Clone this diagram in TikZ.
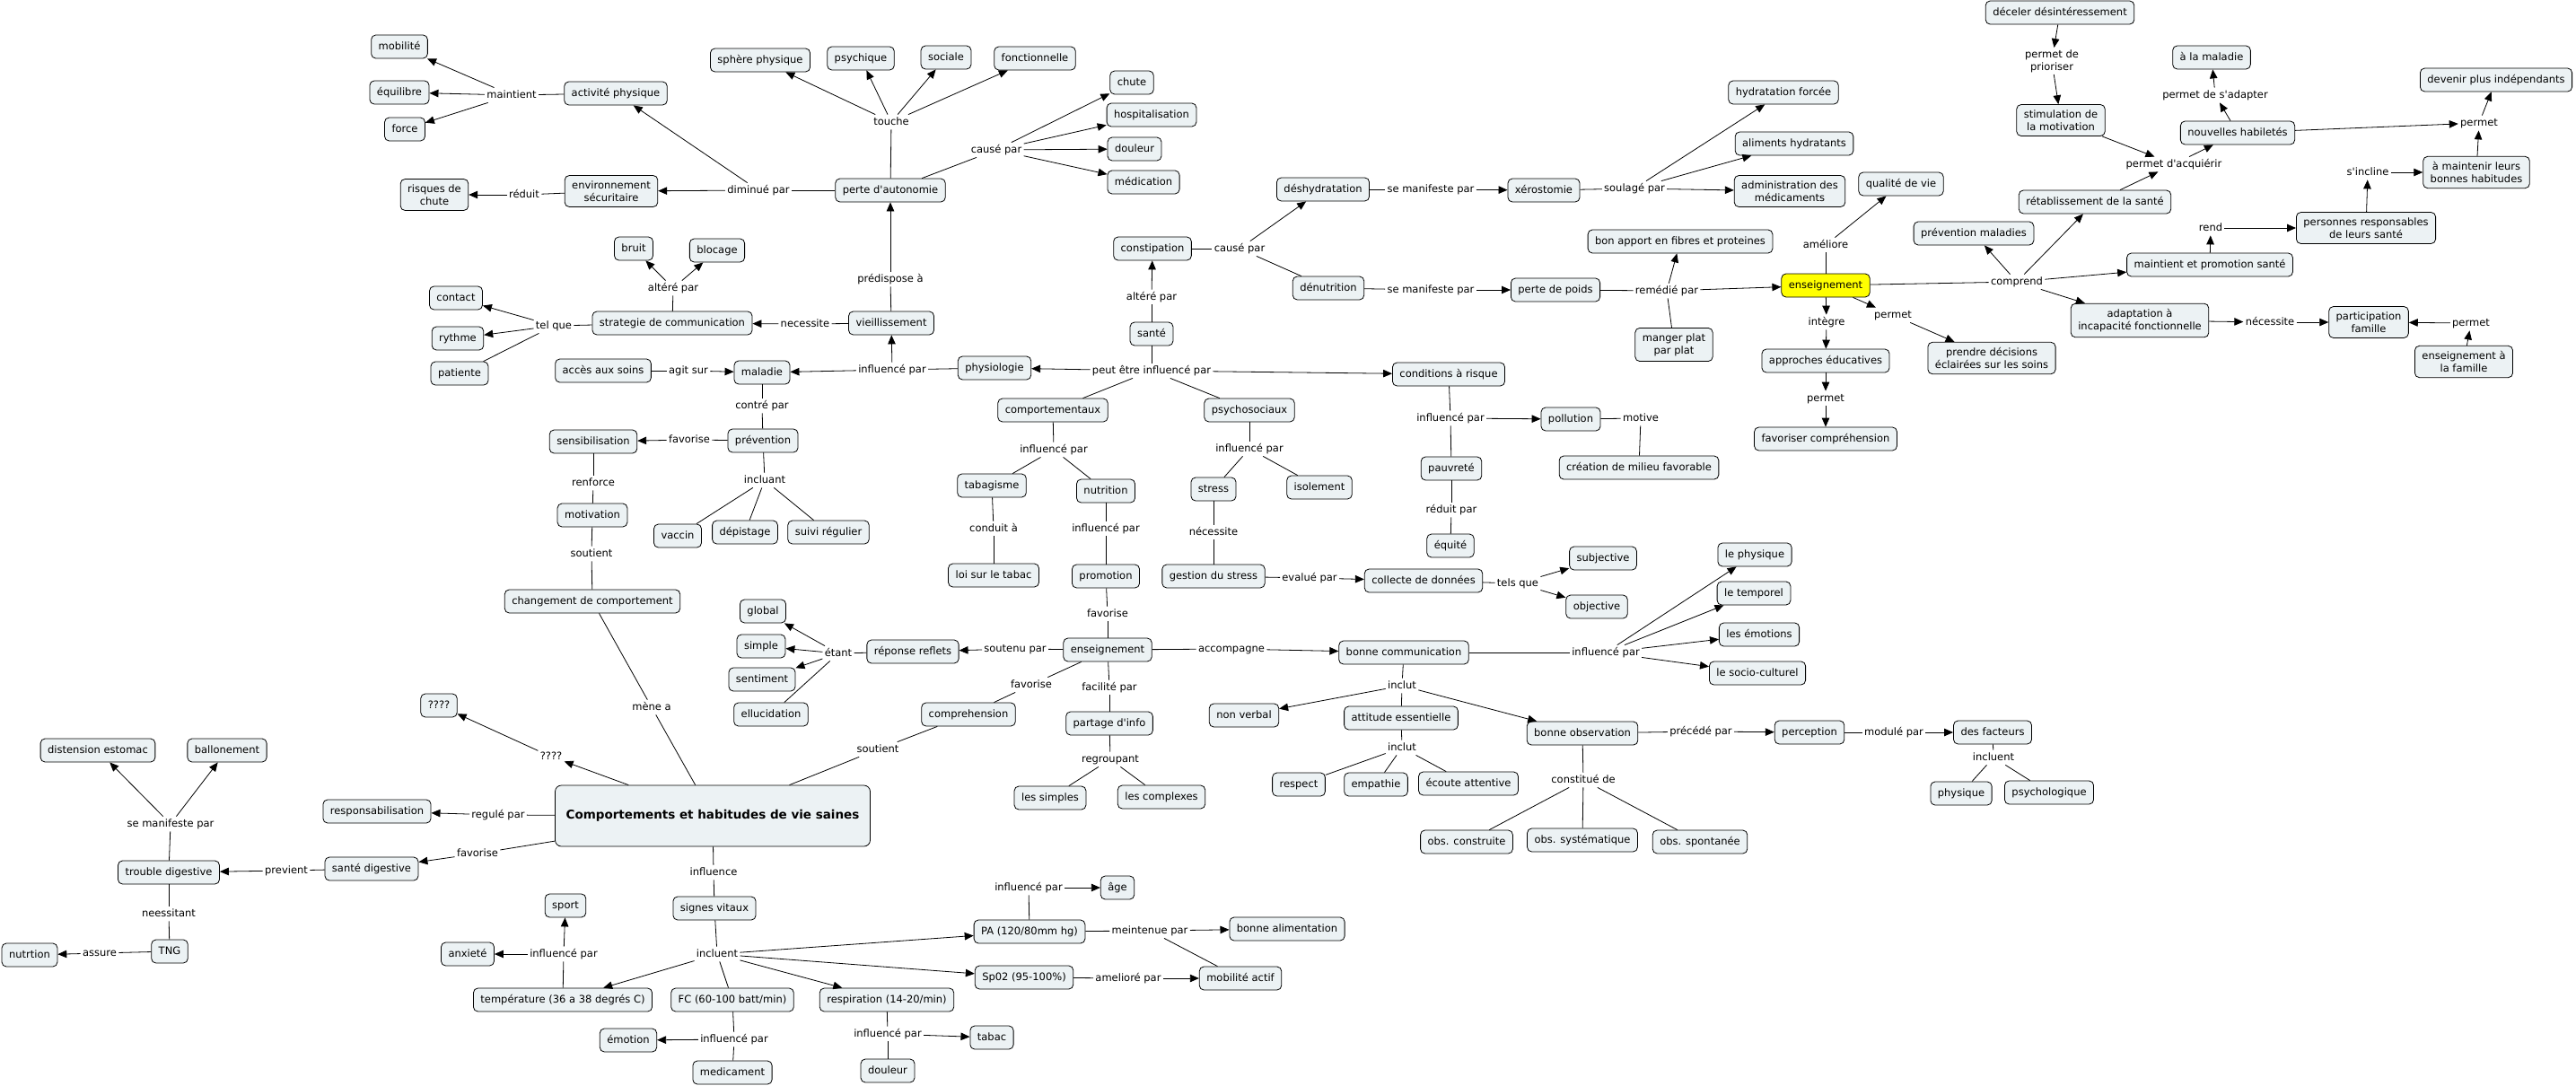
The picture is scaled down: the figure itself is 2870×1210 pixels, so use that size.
\documentclass[tikz,border=0pt]{standalone}
\usepackage{fontspec}
\setmainfont{DejaVu Sans}[Ligatures=TeXOff]
\usepackage{tikz}
\usetikzlibrary{arrows.meta}
\usepackage{xcolor}
\definecolor{cmapfill}{RGB}{236,242,244}
\definecolor{cmapyellow}{RGB}{255,255,0}

\begin{document}
\begin{tikzpicture}[x=1pt,y=-1pt,>={Triangle[length=10pt,width=8.5pt]},line width=0.8pt,
  font=\fontsize{11.5}{14}\selectfont,
  cpt/.style={draw,fill=cmapfill,rounded corners=5pt,inner xsep=8pt,inner ysep=0pt,minimum height=26pt,text height=9pt,text depth=3pt},
  cptb/.style={cpt,align=center,text height=,text depth=,inner ysep=6pt},
  lnk/.style={inner sep=2pt,text height=9pt,text depth=3pt}]
\useasboundingbox (0,0) rectangle (2870,1210);
% perte d'autonomie
\node[cpt] (mob) at (445,52) {mobilité};
\node[cpt] (equ) at (445,103) {équilibre};
\node[cpt] (forc) at (451,144) {force};
\node[lnk] (maint) at (570,106) {maintient};
\node[cpt] (actp) at (686,104) {activité physique};
\node[cptb] (env) at (681,213) {environnement\\sécuritaire};
\node[cptb] (risq) at (484,217) {risques de\\chute};
\node[lnk] (redu) at (584,217) {réduit};
\node[lnk] (dimi) at (845,212) {diminué par};
\node[cpt] (perte) at (992,212) {perte d'autonomie};
\node[lnk] (touc) at (993,136) {touche};
\node[cpt] (sphe) at (847,67) {sphère physique};
\node[cpt] (psyq) at (959,65) {psychique};
\node[cpt] (soci) at (1054,64) {sociale};
\node[cpt] (fonc) at (1153,65) {fonctionnelle};
\node[lnk] (caus) at (1110,167) {causé par};
\node[cpt] (chut) at (1261,92) {chute};
\node[cpt] (hosp) at (1283,128) {hospitalisation};
\node[cpt] (doul) at (1264,166) {douleur};
\node[cpt] (medi) at (1274,203) {médication};
\node[lnk] (pred) at (992,311) {prédispose à};
\node[cpt] (viei) at (993,360) {vieillissement};
\node[lnk] (nece) at (897,361) {necessite};
\node[cpt] (strat) at (749,360) {strategie de communication};
\node[lnk] (alt) at (750,321) {altéré par};
\node[cpt] (brui) at (706,277) {bruit};
\node[cpt] (bloc) at (799,279) {blocage};
\node[lnk] (telq) at (617,363) {tel que};
\node[cpt] (cont) at (508,332) {contact};
\node[cpt] (ryth) at (510,377) {rythme};
\node[cpt] (pati) at (512,416) {patiente};
\node[cpt] (acce) at (672,413) {accès aux soins};
\node[lnk] (agit) at (767,413) {agit sur};
\node[cpt] (mala) at (849,415) {maladie};
\node[lnk] (inflA) at (994,412) {influencé par};
\node[cpt] (phys) at (1108,410) {physiologie};
% santé
\node[lnk] (peut) at (1283,413) {peut être influencé par};
\node[cpt] (sant) at (1283,372) {santé};
\node[lnk] (altB) at (1283,331) {altéré par};
\node[cpt] (cons) at (1284,277) {constipation};
\node[lnk] (causB) at (1381,277) {causé par};
\node[cpt] (desh) at (1474,211) {déshydratation};
\node[lnk] (manA) at (1594,211) {se manifeste par};
\node[cpt] (xero) at (1720,212) {xérostomie};
\node[lnk] (soul) at (1821,210) {soulagé par};
\node[cpt] (hydr) at (1987,103) {hydratation forcée};
\node[cpt] (alim) at (1999,160) {aliments hydratants};
\node[cptb] (admi) at (1994,213) {administration des\\médicaments};
\node[cpt] (qual) at (2118,205) {qualité de vie};
\node[cpt] (bonap) at (1872,269) {bon apport en fibres et proteines};
\node[cpt] (denu) at (1480,321) {dénutrition};
\node[lnk] (manB) at (1594,323) {se manifeste par};
\node[cpt] (poid) at (1733,323) {perte de poids};
\node[lnk] (reme) at (1857,324) {remédié par};
\node[cptb] (mang) at (1865,384) {manger plat\\par plat};
% enseignement
\node[cpt,fill=cmapyellow] (ens) at (2034,318) {enseignement};
\node[lnk] (amel) at (2034,273) {améliore};
\node[lnk] (inte) at (2035,359) {intègre};
\node[lnk] (permA) at (2109,351) {permet};
\node[cpt] (appr) at (2034,402) {approches éducatives};
\node[lnk] (permB) at (2034,444) {permet};
\node[cpt] (favc) at (2034,489) {favoriser compréhension};
\node[cptb] (prend) at (2219,399) {prendre décisions\\éclairées sur les soins};
\node[lnk] (compr) at (2247,314) {comprend};
\node[cpt] (prevm) at (2199,260) {prévention maladies};
\node[cpt] (reta) at (2334,225) {rétablissement de la santé};
\node[cpt] (mpro) at (2462,295) {maintient et promotion santé};
\node[cptb] (adap) at (2384,357) {adaptation à\\incapacité fonctionnelle};
\node[lnk] (nec2) at (2529,359) {nécessite};
\node[cptb] (part) at (2639,359) {participation\\famille};
\node[lnk] (permF) at (2753,360) {permet};
\node[cptb] (ensf) at (2745,403) {enseignement à\\la famille};
\node[lnk] (rend) at (2463,254) {rend};
\node[cptb] (pers) at (2636,254) {personnes responsables\\de leurs santé};
\node[lnk] (sinc) at (2638,192) {s'incline};
\node[cptb] (amai) at (2759,192) {à maintenir leurs\\bonnes habitudes};
\node[lnk] (permD) at (2762,137) {permet};
\node[cpt] (deve) at (2781,89) {devenir plus indépendants};
\node[lnk] (acqu) at (2422,183) {permet d'acquiérir};
\node[cpt] (nouv) at (2493,148) {nouvelles habiletés};
\node[lnk] (adapt) at (2468,106) {permet de s'adapter};
\node[cpt] (alam) at (2464,64) {à la maladie};
\node[cptb] (stim) at (2296,134) {stimulation de\\la motivation};
\node[lnk,align=center,text height=,text depth=] (prio) at (2286,68) {permet de\\prioriser};
\node[cpt] (dece) at (2295,14) {déceler désintéressement};
% facteurs
\node[cpt] (cond) at (1614,417) {conditions à risque};
\node[lnk] (inflC) at (1616,466) {influencé par};
\node[cpt] (poll) at (1750,467) {pollution};
\node[lnk] (moti) at (1828,466) {motive};
\node[cpt] (crea) at (1826,521) {création de milieu favorable};
\node[cpt] (pauv) at (1617,522) {pauvreté};
\node[lnk] (redp) at (1617,568) {réduit par};
\node[cpt] (equi) at (1616,608) {équité};
\node[cpt] (ctal) at (1173,457) {comportementaux};
\node[lnk] (inflD) at (1174,501) {influencé par};
\node[cpt] (taba) at (1105,541) {tabagisme};
\node[cpt] (nutr) at (1232,547) {nutrition};
\node[lnk] (cond2) at (1107,589) {conduit à};
\node[lnk] (inflE) at (1232,589) {influencé par};
\node[cpt] (loi) at (1107,641) {loi sur le tabac};
\node[cpt] (promo) at (1232,642) {promotion};
\node[cpt] (psso) at (1392,457) {psychosociaux};
\node[lnk] (inflF) at (1392,500) {influencé par};
\node[cpt] (stre) at (1352,545) {stress};
\node[cpt] (isol) at (1470,543) {isolement};
\node[lnk] (nec3) at (1352,593) {nécessite};
\node[cpt] (gest) at (1352,642) {gestion du stress};
\node[lnk] (eval) at (1459,644) {evalué par};
\node[cpt] (coll) at (1586,647) {collecte de données};
\node[lnk] (telsq) at (1691,650) {tels que};
\node[cpt] (subj) at (1786,622) {subjective};
\node[cpt] (obje) at (1779,676) {objective};
% prevention
\node[lnk] (contr) at (849,452) {contré par};
\node[cpt] (prev) at (850,491) {prévention};
\node[lnk] (favA) at (768,490) {favorise};
\node[cpt] (sens) at (661,492) {sensibilisation};
\node[lnk] (incl) at (852,535) {incluant};
\node[cpt] (vacc) at (755,597) {vaccin};
\node[cpt] (depi) at (830,593) {dépistage};
\node[cpt] (suiv) at (923,593) {suivi régulier};
\node[lnk] (renf) at (661,538) {renforce};
\node[cpt] (moti2) at (660,574) {motivation};
\node[lnk] (sout) at (659,617) {soutient};
\node[cpt] (chan) at (660,670) {changement de comportement};
\node[lnk] (mene) at (726,788) {mène a};
% enseignement (bas)
\node[cpt] (ens2) at (1234,724) {enseignement};
\node[lnk] (favB) at (1234,684) {favorise};
\node[lnk] (sten) at (1131,723) {soutenu par};
\node[cpt] (repo) at (1017,726) {réponse reflets};
\node[lnk] (etan) at (934,728) {étant};
\node[cpt] (glob) at (850,681) {global};
\node[cpt] (simp) at (848,720) {simple};
\node[cpt] (sent) at (849,757) {sentiment};
\node[cpt] (ellu) at (859,796) {ellucidation};
\node[lnk] (favC) at (1149,763) {favorise};
\node[cpt] (comh) at (1079,796) {comprehension};
\node[lnk] (souB) at (978,835) {soutient};
\node[lnk] (faci) at (1236,766) {facilité par};
\node[cpt] (part2) at (1236,806) {partage d'info};
\node[lnk] (regr) at (1237,846) {regroupant};
\node[cpt] (lsim) at (1170,889) {les simples};
\node[cpt] (lcom) at (1294,888) {les complexes};
\node[lnk] (acco) at (1372,723) {accompagne};
\node[cpt] (bcom) at (1564,727) {bonne communication};
\node[lnk] (inflG) at (1789,727) {influencé par};
\node[cpt] (lphy) at (1955,618) {le physique};
\node[cpt] (ltem) at (1954,661) {le temporel};
\node[cpt] (lemo) at (1960,707) {les émotions};
\node[cpt] (lsoc) at (1958,750) {le socio-culturel};
\node[lnk] (inclA) at (1562,764) {inclut};
\node[cpt] (nonv) at (1386,797) {non verbal};
\node[cpt] (atti) at (1561,800) {attitude essentielle};
\node[lnk] (inclB) at (1562,833) {inclut};
\node[cpt] (resp) at (1447,874) {respect};
\node[cpt] (empa) at (1533,874) {empathie};
\node[cpt] (ecou) at (1636,873) {écoute attentive};
\node[cpt] (bobs) at (1763,817) {bonne observation};
\node[lnk] (prec) at (1895,815) {précédé par};
\node[cpt] (perc) at (2016,816) {perception};
\node[lnk] (modu) at (2110,816) {modulé par};
\node[cpt] (fact) at (2220,816) {des facteurs};
\node[lnk] (inclC) at (2221,844) {incluent};
\node[cpt] (fphy) at (2185,884) {physique};
\node[cpt] (fpsy) at (2283,883) {psychologique};
\node[lnk] (cons2) at (1764,869) {constitué de};
\node[cpt] (obsc) at (1634,938) {obs. construite};
\node[cpt] (obss) at (1763,936) {obs. systématique};
\node[cpt] (obsp) at (1894,938) {obs. spontanée};
% comportements
\node[cpt,font=\bfseries\fontsize{13.5}{16}\selectfont,minimum width=351pt,minimum height=68pt,rounded corners=7pt] (comp) at (794,909) {Comportements et habitudes de vie saines};
\node[cpt] (qq) at (489,786) {????};
\node[lnk] (qqlab) at (614,843) {????};
\node[cpt] (resb) at (420,904) {responsabilisation};
\node[lnk] (regu) at (555,908) {regulé par};
\node[lnk] (favD) at (532,951) {favorise};
\node[cpt] (sdig) at (414,968) {santé digestive};
\node[lnk] (prevt) at (319,970) {previent};
\node[cpt] (tdig) at (188,972) {trouble digestive};
\node[lnk] (manC) at (190,918) {se manifeste par};
\node[cpt] (dist) at (109,836) {distension estomac};
\node[cpt] (ball) at (253,836) {ballonement};
\node[lnk] (nees) at (188,1018) {neessitant};
\node[cpt] (tng) at (189,1060) {TNG};
\node[lnk] (assu) at (111,1062) {assure};
\node[cpt] (nutn) at (33,1064) {nutrtion};
% signes vitaux
\node[lnk] (infl) at (795,972) {influence};
\node[cpt] (sign) at (796,1012) {signes vitaux};
\node[lnk] (inclD) at (799,1063) {incluent};
\node[cpt] (temp) at (627,1114) {température (36 a 38 degrés C)};
\node[lnk] (inflH) at (628,1063) {influencé par};
\node[cpt] (anxi) at (521,1063) {anxieté};
\node[cpt] (spor) at (630,1009) {sport};
\node[cpt] (fc) at (816,1114) {FC (60-100 batt/min)};
\node[lnk] (inflI) at (818,1158) {influencé par};
\node[cpt] (emot) at (700,1159) {émotion};
\node[cpt] (medc) at (816,1195) {medicament};
\node[cpt] (resp2) at (988,1114) {respiration (14-20/min)};
\node[lnk] (inflJ) at (989,1152) {influencé par};
\node[cpt] (taba2) at (1105,1156) {tabac};
\node[cpt] (doul2) at (989,1193) {douleur};
\node[cpt] (pa) at (1147,1038) {PA (120/80mm hg)};
\node[lnk] (inflK) at (1146,989) {influencé par};
\node[cpt] (age) at (1245,989) {âge};
\node[lnk] (mein) at (1281,1037) {meintenue par};
\node[cpt] (balim) at (1434,1035) {bonne alimentation};
\node[cpt] (sp) at (1141,1089) {Sp02 (95-100\%)};
\node[lnk] (amep) at (1257,1090) {amelioré par};
\node[cpt] (mobac) at (1382,1090) {mobilité actif};
% liens
\draw (actp) -- (maint);
\draw[->] (maint) -- (mob); \draw[->] (maint) -- (equ); \draw[->] (maint) -- (forc);
\draw (perte) -- (dimi);
\draw[->] (dimi) -- (env); \draw[->] (dimi) -- (actp);
\draw (env) -- (redu); \draw[->] (redu) -- (risq);
\draw (perte) -- (touc);
\draw[->] (touc) -- (sphe); \draw[->] (touc) -- (psyq); \draw[->] (touc) -- (soci); \draw[->] (touc) -- (fonc);
\draw (perte) -- (caus);
\draw[->] (caus) -- (chut); \draw[->] (caus) -- (hosp); \draw[->] (caus) -- (doul); \draw[->] (caus) -- (medi);
\draw (viei) -- (pred); \draw[->] (pred) -- (perte);
\draw (viei) -- (nece); \draw[->] (nece) -- (strat);
\draw (strat) -- (alt); \draw[->] (alt) -- (brui); \draw[->] (alt) -- (bloc);
\draw (strat) -- (telq); \draw[->] (telq) -- (cont); \draw[->] (telq) -- (ryth); \draw (telq) -- (pati);
\draw (acce) -- (agit); \draw[->] (agit) -- (mala);
\draw (phys) -- (inflA); \draw[->] (inflA) -- (mala); \draw[->] (inflA) -- (viei);
\draw (sant) -- (peut); \draw[->] (peut) -- (phys); \draw[->] (peut) -- (cond);
\draw (peut) -- (ctal); \draw (peut) -- (psso);
\draw (sant) -- (altB); \draw[->] (altB) -- (cons);
\draw (cons) -- (causB); \draw[->] (causB) -- (desh); \draw (causB) -- (denu);
\draw (desh) -- (manA); \draw[->] (manA) -- (xero);
\draw (xero) -- (soul); \draw[->] (soul) -- (hydr); \draw[->] (soul) -- (alim); \draw[->] (soul) -- (admi);
\draw (denu) -- (manB); \draw[->] (manB) -- (poid);
\draw (poid) -- (reme); \draw[->] (reme) -- (ens); \draw[->] (reme) -- (bonap); \draw (mang) -- (reme);
\draw (ens) -- (amel); \draw[->] (amel) -- (qual);
\draw[->] (ens) -- (inte); \draw[->] (inte) -- (appr);
\draw[->] (ens) -- (permA); \draw[->] (permA) -- (prend);
\draw[->] (appr) -- (permB); \draw[->] (permB) -- (favc);
\draw (ens) -- (compr);
\draw[->] (compr) -- (prevm); \draw[->] (compr) -- (reta); \draw[->] (compr) -- (mpro); \draw[->] (compr) -- (adap);
\draw[->] (reta) -- (acqu); \draw[->] (stim) -- (acqu); \draw[->] (acqu) -- (nouv);
\draw[->] (dece) -- (prio); \draw[->] (prio) -- (stim);
\draw[->] (nouv) -- (adapt); \draw[->] (adapt) -- (alam);
\draw[->] (nouv) -- (permD); \draw[->] (amai) -- (permD); \draw[->] (permD) -- (deve);
\draw[->] (mpro) -- (rend); \draw[->] (rend) -- (pers);
\draw[->] (pers) -- (sinc); \draw[->] (sinc) -- (amai);
\draw[->] (adap) -- (nec2); \draw[->] (nec2) -- (part);
\draw[->] (ensf) -- (permF); \draw[->] (permF) -- (part);
\draw (cond) -- (inflC); \draw[->] (inflC) -- (poll); \draw (inflC) -- (pauv);
\draw (poll) -- (moti); \draw (moti) -- (crea);
\draw (pauv) -- (redp); \draw (redp) -- (equi);
\draw (ctal) -- (inflD); \draw (inflD) -- (taba); \draw (inflD) -- (nutr);
\draw (taba) -- (cond2); \draw (cond2) -- (loi);
\draw (nutr) -- (inflE); \draw (inflE) -- (promo);
\draw (psso) -- (inflF); \draw (inflF) -- (stre); \draw (inflF) -- (isol);
\draw (stre) -- (nec3); \draw (nec3) -- (gest);
\draw (gest) -- (eval); \draw[->] (eval) -- (coll);
\draw (coll) -- (telsq); \draw[->] (telsq) -- (subj); \draw[->] (telsq) -- (obje);
\draw (mala) -- (contr); \draw (contr) -- (prev);
\draw (prev) -- (favA); \draw[->] (favA) -- (sens);
\draw (prev) -- (incl); \draw (incl) -- (vacc); \draw (incl) -- (depi); \draw (incl) -- (suiv);
\draw (sens) -- (renf); \draw (renf) -- (moti2);
\draw (moti2) -- (sout); \draw (sout) -- (chan);
\draw (chan) -- (mene); \draw (mene) -- (comp);
\draw (promo) -- (favB); \draw (favB) -- (ens2);
\draw (ens2) -- (sten); \draw[->] (sten) -- (repo);
\draw (repo) -- (etan); \draw[->] (etan) -- (glob); \draw[->] (etan) -- (simp); \draw[->] (etan) -- (sent); \draw (etan) -- (ellu);
\draw (ens2) -- (favC); \draw (favC) -- (comh);
\draw (comh) -- (souB); \draw (souB) -- (comp);
\draw (ens2) -- (faci); \draw (faci) -- (part2);
\draw (part2) -- (regr); \draw (regr) -- (lsim); \draw (regr) -- (lcom);
\draw (ens2) -- (acco); \draw[->] (acco) -- (bcom);
\draw (bcom) -- (inflG);
\draw[->] (inflG) -- (lphy); \draw[->] (inflG) -- (ltem); \draw[->] (inflG) -- (lemo); \draw[->] (inflG) -- (lsoc);
\draw (bcom) -- (inclA); \draw[->] (inclA) -- (nonv); \draw (inclA) -- (atti); \draw[->] (inclA) -- (bobs);
\draw (atti) -- (inclB); \draw (inclB) -- (resp); \draw (inclB) -- (empa); \draw (inclB) -- (ecou);
\draw (bobs) -- (prec); \draw[->] (prec) -- (perc);
\draw (perc) -- (modu); \draw[->] (modu) -- (fact);
\draw (fact) -- (inclC); \draw (inclC) -- (fphy); \draw (inclC) -- (fpsy);
\draw (bobs) -- (cons2); \draw (cons2) -- (obsc); \draw (cons2) -- (obss); \draw (cons2) -- (obsp);
\draw[->] (comp) -- (qqlab); \draw[->] (qqlab) -- (qq);
\draw (comp) -- (regu); \draw[->] (regu) -- (resb);
\draw (comp) -- (favD); \draw[->] (favD) -- (sdig);
\draw (sdig) -- (prevt); \draw[->] (prevt) -- (tdig);
\draw (tdig) -- (manC); \draw[->] (manC) -- (dist); \draw[->] (manC) -- (ball);
\draw (tdig) -- (nees); \draw (nees) -- (tng);
\draw (tng) -- (assu); \draw[->] (assu) -- (nutn);
\draw (comp) -- (infl); \draw (infl) -- (sign);
\draw (sign) -- (inclD);
\draw[->] (inclD) -- (temp); \draw (inclD) -- (fc); \draw[->] (inclD) -- (resp2); \draw[->] (inclD) -- (pa); \draw[->] (inclD) -- (sp);
\draw (temp) -- (inflH); \draw[->] (inflH) -- (anxi); \draw[->] (inflH) -- (spor);
\draw (fc) -- (inflI); \draw[->] (inflI) -- (emot); \draw (inflI) -- (medc);
\draw (resp2) -- (inflJ); \draw[->] (inflJ) -- (taba2); \draw (inflJ) -- (doul2);
\draw (pa) -- (inflK); \draw[->] (inflK) -- (age);
\draw (pa) -- (mein); \draw[->] (mein) -- (balim); \draw (mein) -- (mobac);
\draw (sp) -- (amep); \draw[->] (amep) -- (mobac);
\end{tikzpicture}
\end{document}
